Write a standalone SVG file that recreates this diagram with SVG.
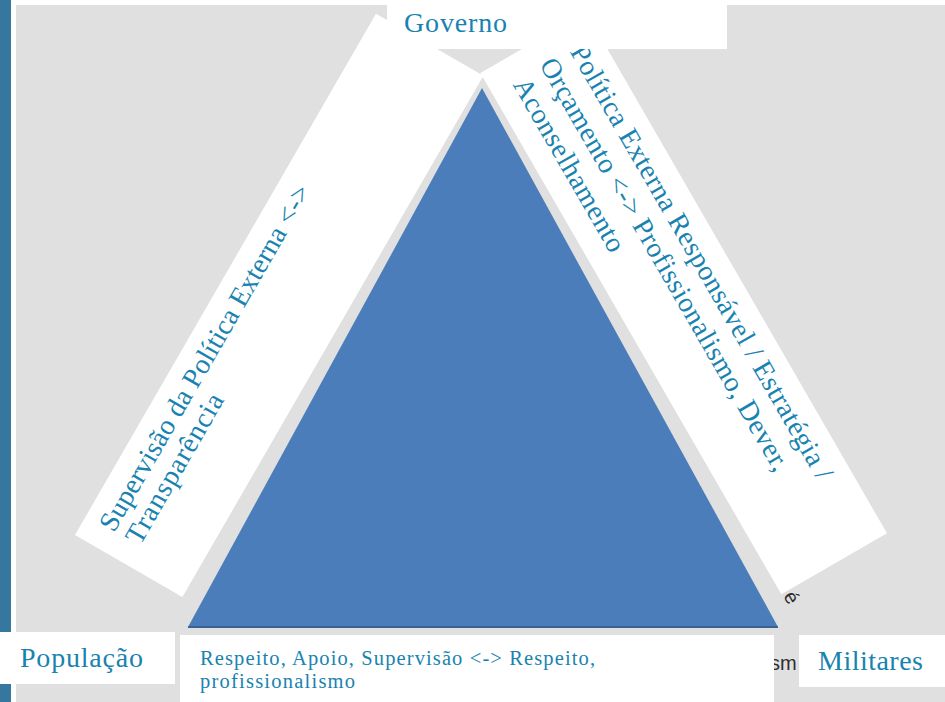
<svg xmlns="http://www.w3.org/2000/svg" width="945" height="702" viewBox="0 0 945 702">
<style>
.t{font-family:"Liberation Serif","Times New Roman",serif;fill:#1883b0;font-size:28px}
.s{font-size:20.5px}
.box{fill:#ffffff}
.ghost{font-family:"Liberation Sans",Arial,sans-serif;fill:#2e2e2e;font-size:20px}
</style>
<rect x="0" y="0" width="945" height="702" fill="#ffffff"/>
<rect x="16" y="5" width="929" height="697" fill="#e0e0e0"/>
<rect x="0" y="0" width="11" height="702" fill="#36779f"/>
<g id="fragments">
<text class="ghost" x="770" y="670">sm</text>
<text class="ghost" transform="translate(783,596) rotate(60)">é</text>
</g>
<g id="connectors">
<polygon points="482,88 188,627 778,627" fill="#4a7dba"/>
<line x1="188" y1="627" x2="778" y2="627" stroke="#3c6292" stroke-width="2"/>
</g>
<g id="edge-left" transform="translate(75,535) rotate(-60)">
<rect class="box" x="0" y="0" width="602" height="124"/>
<text class="t" x="21" y="33" textLength="395" lengthAdjust="spacing">Supervisão da Política Externa &lt;-&gt;</text>
<text class="t" x="23" y="62" textLength="169" lengthAdjust="spacing">Transparência</text>
</g>
<g id="edge-right" transform="translate(586,12) rotate(60)">
<rect class="box" x="0" y="0" width="602" height="122"/>
<text class="t" x="26" y="34" textLength="497" lengthAdjust="spacing">Política Externa Responsável / Estratégia /</text>
<text class="t" x="22" y="67" textLength="472" lengthAdjust="spacing">Orçamento &lt;-&gt; Profissionalismo, Dever,</text>
<text class="t" x="26" y="100" textLength="196" lengthAdjust="spacing">Aconselhamento</text>
</g>
<g id="governo">
<rect class="box" x="387" y="0" width="340" height="49"/>
<text class="t" x="404" y="32" textLength="103" lengthAdjust="spacing">Governo</text>
</g>
<g id="populacao">
<rect class="box" x="0" y="632" width="175" height="52"/>
<text class="t" x="20" y="667" textLength="123" lengthAdjust="spacing">População</text>
</g>
<g id="edge-bottom">
<rect class="box" x="180" y="635" width="594" height="67"/>
<text class="t s" x="200" y="665" textLength="395" lengthAdjust="spacing">Respeito, Apoio, Supervisão &lt;-&gt; Respeito,</text>
<text class="t s" x="200" y="688" textLength="155" lengthAdjust="spacing">profissionalismo</text>
</g>
<g id="militares">
<rect class="box" x="799" y="635" width="146" height="52"/>
<text class="t" x="818" y="670" textLength="105" lengthAdjust="spacing">Militares</text>
</g>
</svg>
